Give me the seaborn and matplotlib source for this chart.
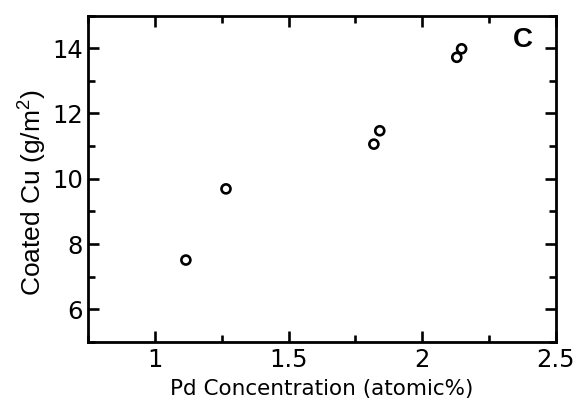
import matplotlib
matplotlib.use("Agg")
import matplotlib.pyplot as plt
import seaborn as sns
import pandas as pd
from matplotlib.ticker import MultipleLocator

pd_conc = [1.116, 1.266, 1.819, 1.841, 2.129, 2.147]
coated_cu = [7.51, 9.69, 11.06, 11.47, 13.72, 13.98]
x_ticks = [1, 1.5, 2, 2.5]
x_tick_labels = ["1", "1.5", "2", "2.5"]
y_ticks = [6, 8, 10, 12, 14]
y_tick_labels = ["6", "8", "10", "12", "14"]

df = pd.DataFrame({"x": pd_conc, "y": coated_cu})

sns.set_theme(style="ticks")
plt.rcParams["font.family"] = ["DejaVu Sans"]
plt.rcParams["text.color"] = "black"
plt.rcParams["axes.labelcolor"] = "black"
plt.rcParams["mathtext.fontset"] = "custom"
plt.rcParams["mathtext.rm"] = "Liberation Sans"
plt.rcParams["mathtext.it"] = "Liberation Sans"
plt.rcParams["mathtext.bf"] = "Liberation Sans:bold"

fig = plt.figure(figsize=(5.8, 4.03), dpi=100)
ax = fig.add_axes([88/580, 1 - 342/403, (556-88)/580, (342-15.5)/403])

sns.scatterplot(data=df, x="x", y="y", ax=ax, s=42, facecolor="none",
                edgecolor="black", linewidth=1.9, marker="o", legend=False)

ax.set_xlim(0.75, 2.5)
ax.set_ylim(5, 15)
ax.set_xticks(x_ticks)
ax.set_xticklabels(x_tick_labels)
ax.set_yticks(y_ticks)
ax.set_yticklabels(y_tick_labels)
ax.xaxis.set_minor_locator(MultipleLocator(0.25))
ax.yaxis.set_minor_locator(MultipleLocator(1))
ax.tick_params(which="both", direction="in", top=True, right=True,
               labelsize=17.5, colors="black", width=1.9)
ax.tick_params(axis="x", which="major", pad=4)
ax.tick_params(axis="y", which="major", pad=3.5)
ax.tick_params(which="major", length=8)
ax.tick_params(which="minor", length=5)
for s in ax.spines.values():
    s.set_linewidth(2.0)
    s.set_color("black")

ax.set_xlabel("Pd Concentration (atomic%)", fontsize=15.5, labelpad=5,
              color="black")
ax.set_ylabel("Coated Cu (g/m$^\\mathrm{2}$)", fontsize=19,
              family=["Liberation Sans", "DejaVu Sans"], color="black")
ax.yaxis.set_label_coords(-0.084, 0.457)
ax.text(0.929, 0.925, "C", transform=ax.transAxes, fontsize=20,
        fontweight="bold", ha="center", va="center",
        family=["Liberation Sans", "DejaVu Sans"], color="black")

fig.savefig("out.png", dpi=100)
